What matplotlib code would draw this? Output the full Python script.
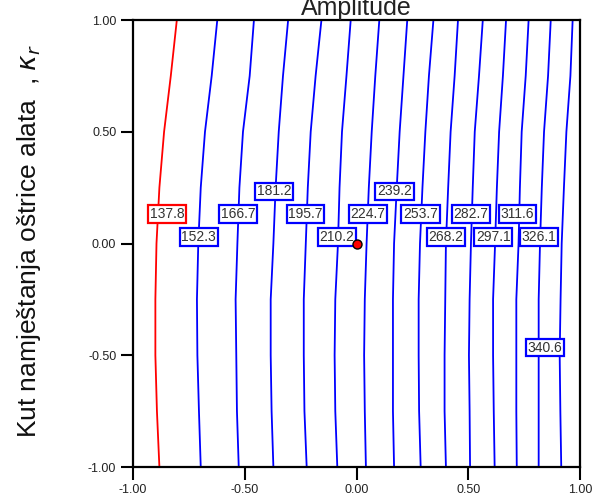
import matplotlib
matplotlib.use("Agg")
import matplotlib.pyplot as plt
import numpy as np

########## DATA ##########

# y positions where each contour line was sampled
y_samples = [-1.0, -0.75, -0.5, -0.25, 0.0, 0.25, 0.5, 0.75, 1.0]

levels = [137.8, 152.3, 166.7, 181.2, 195.7, 210.2, 224.7, 239.2,
          253.7, 268.2, 282.7, 297.1, 311.6, 326.1, 340.6]

# x position of each contour line at the y samples above
line_x = [
    [-0.882, -0.893, -0.900, -0.900, -0.895, -0.882, -0.861, -0.831, -0.804],
    [-0.697, -0.705, -0.712, -0.714, -0.708, -0.697, -0.678, -0.648, -0.623],
    [-0.527, -0.535, -0.538, -0.541, -0.533, -0.524, -0.508, -0.478, -0.459],
    [-0.372, -0.380, -0.384, -0.384, -0.372, -0.362, -0.348, -0.329, -0.306],
    [-0.223, -0.233, -0.236, -0.236, -0.227, -0.218, -0.205, -0.183, -0.157],
    [-0.086, -0.095, -0.098, -0.095, -0.083, -0.076, -0.065, -0.045, -0.026],
    [0.042, 0.037, 0.034, 0.037, 0.045, 0.055, 0.068, 0.084, 0.102],
    [0.168, 0.163, 0.163, 0.163, 0.168, 0.180, 0.193, 0.210, 0.227],
    [0.287, 0.280, 0.278, 0.278, 0.284, 0.295, 0.308, 0.324, 0.344],
    [0.400, 0.394, 0.394, 0.397, 0.400, 0.410, 0.421, 0.439, 0.454],
    [0.508, 0.506, 0.503, 0.506, 0.512, 0.520, 0.529, 0.548, 0.565],
    [0.618, 0.614, 0.611, 0.611, 0.620, 0.628, 0.638, 0.655, 0.669],
    [0.717, 0.715, 0.715, 0.715, 0.725, 0.731, 0.739, 0.757, 0.770],
    [0.815, 0.815, 0.815, 0.815, 0.821, 0.829, 0.839, 0.857, 0.869],
    [0.916, 0.912, 0.909, 0.913, 0.918, 0.928, 0.939, 0.957, 0.967],
]

# design point
point_x = [0.0]
point_y = [0.0]

tick_vals = [-1.0, -0.5, 0.0, 0.5, 1.0]

########## LAYOUT ##########

label_pos = [(-0.848, 0.132), (-0.706, 0.029), (-0.531, 0.132), (-0.370, 0.233),
             (-0.228, 0.132), (-0.089, 0.029), (0.051, 0.132), (0.170, 0.233),
             (0.286, 0.132), (0.400, 0.029), (0.512, 0.132), (0.612, 0.029),
             (0.720, 0.132), (0.816, 0.029), (0.843, -0.466)]

plt.rcParams['font.family'] = ['Liberation Sans', 'DejaVu Sans']

fig = plt.figure(figsize=(6, 5.04), dpi=100)
ax = fig.add_axes([0.2217, 0.0734, 0.745, 0.8869])

for i, lev in enumerate(levels):
    col = "#ff0000" if i == 0 else "#0000ff"
    ax.plot(line_x[i], y_samples, color=col, lw=1.3, zorder=2)
    lx, ly = label_pos[i]
    ax.text(lx, ly, "%.1f" % lev, ha="center", va="center", fontsize=10,
            color="#333333", zorder=4,
            bbox=dict(boxstyle="square,pad=0.12", fc="white", ec=col, lw=1.6))

ax.plot(point_x, point_y, "o", color="#ff0000", mec="black", mew=1.0,
        ms=6.5, zorder=5)

ax.set_xlim(-1, 1)
ax.set_ylim(-1, 1)
ax.set_xticks(tick_vals)
ax.set_yticks(tick_vals)
ax.set_xticklabels(["%.2f" % v for v in tick_vals])
ax.set_yticklabels(["%.2f" % v for v in tick_vals])
ax.tick_params(direction="out", length=9, width=1.5, labelsize=9,
               labelcolor="#222222", pad=3)
for s in ax.spines.values():
    s.set_linewidth(1.6)
    s.set_color("black")

fig.text(356.5 / 600, 1 - 15 / 504, "Amplitude", ha="center", va="baseline",
         fontsize=18, color="#222222")
fig.text(29 / 600, 1 - 241 / 504,
         "Kut namještanja oštrice alata  , $\\kappa_r$",
         rotation=90, ha="center", va="center", fontsize=19, color="#111111")

fig.savefig("out.png", dpi=100)
